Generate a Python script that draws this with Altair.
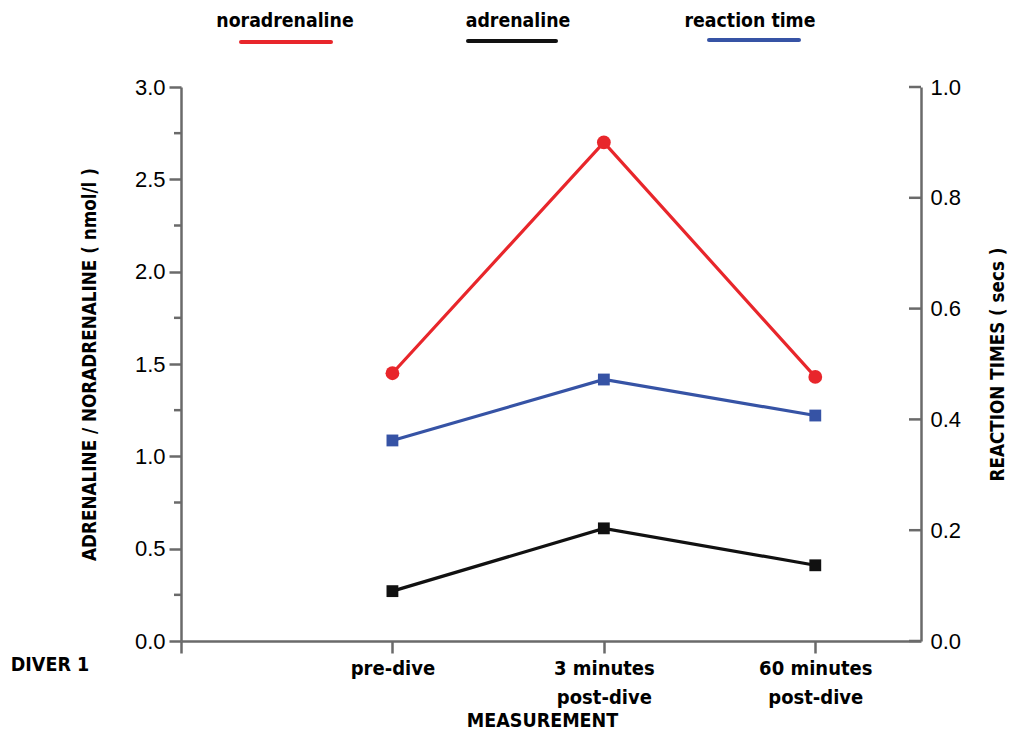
import json
import altair as alt
import pandas as pd

# ---------------- data ----------------
positions = [1, 2, 3]
x_label_lines = [["pre-dive"], ["3 minutes", "post-dive"], ["60 minutes", "post-dive"]]
noradrenaline = [1.45, 2.70, 1.43]
adrenaline = [0.27, 0.61, 0.41]
reaction_time = [0.362, 0.472, 0.407]
left_major = [0.0, 0.5, 1.0, 1.5, 2.0, 2.5, 3.0]
left_minor = [0.25, 0.75, 1.25, 1.75, 2.25, 2.75]
right_ticks = [0.0, 0.2, 0.4, 0.6, 0.8, 1.0]
legend_labels = ["noradrenaline", "adrenaline", "reaction time"]
diver_label = "DIVER 1"

RED = "#e8262b"
BLACK = "#111111"
BLUE = "#3653a5"
AXIS = "#6a6a6a"

W, H = 740, 554
BOLD = "Liberation Sans Narrow, Arial Narrow, DejaVu Sans Condensed, sans-serif"
REG = "Liberation Sans, Arial, sans-serif"

df = pd.DataFrame({"pos": positions, "nor": noradrenaline, "adr": adrenaline, "rt": reaction_time})

# x label expression
parts = []
for p, lines in zip(positions, x_label_lines):
    parts.append(f"datum.value == {p} ? {json.dumps(lines)} : ")
label_expr = "".join(parts) + "''"

x_axis = alt.Axis(
    values=[0] + positions, labelExpr=label_expr, tickSize=12, tickWidth=2.5,
    tickColor=AXIS, domainColor=AXIS, domainWidth=2.5, labelFont=BOLD,
    labelFontSize=20, labelFontWeight="bold", labelColor="black", labelPadding=5,
    labelLineHeight=29, labelBaseline="top", labelFlush=False, labelOverlap=False,
    title="MEASUREMENT", titleFont=BOLD, titleFontSize=19.5, titleFontWeight="bold",
    titleColor="black", titleX=361, titleY=79, titleAlign="center", titleBaseline="middle",
    grid=False,
)
x_scale = alt.Scale(domain=[0, 3.5], nice=False, zero=False)

def X():
    return alt.X("pos:Q", scale=x_scale, axis=x_axis)

yl_scale = alt.Scale(domain=[0, 3], nice=False, zero=True)
yl_axis = alt.Axis(
    values=left_major, format=".1f", tickSize=12, tickWidth=2.5, tickColor=AXIS,
    domainColor=AXIS, domainWidth=2.5, labelFont=REG, labelFontSize=22,
    labelColor="black", labelPadding=4, grid=False,
    title="ADRENALINE / NORADRENALINE ( nmol/l )", titleFont=BOLD, titleFontSize=18.7,
    titleFontWeight="bold", titleColor="black", titleAngle=270, titleX=-92, titleY=H / 2,
    titleAlign="center", titleBaseline="middle",
)
yr_scale = alt.Scale(domain=[0, 1], nice=False, zero=True)
yr_axis = alt.Axis(
    orient="right", values=right_ticks, format=".1f", ticks=False, tickSize=0,
    domainColor=AXIS, domainWidth=2.5, labelFont=REG, labelFontSize=22,
    labelColor="black", labelPadding=9, grid=False,
    title="REACTION TIMES ( secs )", titleFont=BOLD, titleFontSize=18.7,
    titleFontWeight="bold", titleColor="black", titleAngle=270, titleX=76, titleY=H / 2,
    titleAlign="center", titleBaseline="middle",
)

def YL(field):
    return alt.Y(f"{field}:Q", scale=yl_scale, axis=yl_axis)

def YR(field):
    return alt.Y(f"{field}:Q", scale=yr_scale, axis=yr_axis)

base = alt.Chart(df)

nor_line = base.mark_line(color=RED, strokeWidth=3.2).encode(x=X(), y=YL("nor"))
nor_pts = base.mark_point(shape="circle", filled=True, opacity=1, color=RED, size=190).encode(x=X(), y=YL("nor"))
adr_line = base.mark_line(color=BLACK, strokeWidth=3.2).encode(x=X(), y=YL("adr"))
adr_pts = base.mark_point(shape="square", filled=True, opacity=1, color=BLACK, size=140).encode(x=X(), y=YL("adr"))

minor = alt.Chart(pd.DataFrame({"m": left_minor})).mark_rule(color=AXIS, strokeWidth=2.5).encode(
    y=YL("m"), x=alt.value(-7), x2=alt.value(0)
)

# legend (custom: label above a line sample)
leg_text_x = [104, 337, 569]
leg_line_x = [(60, 150), (287, 375), (528, 618)]
leg_line_y = [-45, -46, -47]
leg_colors = [RED, BLACK, BLUE]
legend_layers = []
for lbl, tx, (lx1, lx2), ly, c in zip(legend_labels, leg_text_x, leg_line_x, leg_line_y, leg_colors):
    d = pd.DataFrame({"label": [lbl]})
    legend_layers.append(
        alt.Chart(d).mark_text(font=BOLD, fontSize=19.3, fontWeight="bold", color="black",
                               align="center", baseline="middle").encode(
            text="label:N", x=alt.value(tx), y=alt.value(-66))
    )
    legend_layers.append(
        alt.Chart(d).mark_rule(color=c, strokeWidth=4, strokeCap="round").encode(
            x=alt.value(lx1), x2=alt.value(lx2), y=alt.value(ly))
    )

diver = alt.Chart(pd.DataFrame({"label": [diver_label]})).mark_text(
    font=BOLD, fontSize=19.5, fontWeight="bold", color="black", align="center", baseline="middle"
).encode(text="label:N", x=alt.value(-131), y=alt.value(24 + H))

left = alt.layer(minor, nor_line, adr_line, nor_pts, adr_pts, diver, *legend_layers)

rt_line = base.mark_line(color=BLUE, strokeWidth=3.2).encode(x=X(), y=YR("rt"))
rt_pts = base.mark_point(shape="square", filled=True, opacity=1, color=BLUE, size=140).encode(x=X(), y=YR("rt"))
rt_ticks = alt.Chart(pd.DataFrame({"t": right_ticks})).mark_rule(color=AXIS, strokeWidth=2.5).encode(
    y=YR("t"), x=alt.value(W - 12), x2=alt.value(W)
)
right = alt.layer(rt_ticks, rt_line, rt_pts)

chart = alt.layer(left, right).resolve_scale(y="independent").properties(
    width=W, height=H,
    autosize=alt.AutoSizeParams(type="none"),
    padding={"left": 173, "top": 79, "right": 88, "bottom": 90},
    background="white",
).configure_view(stroke=None)

chart.save("out.html", embed_options={"renderer": "svg", "actions": False})
